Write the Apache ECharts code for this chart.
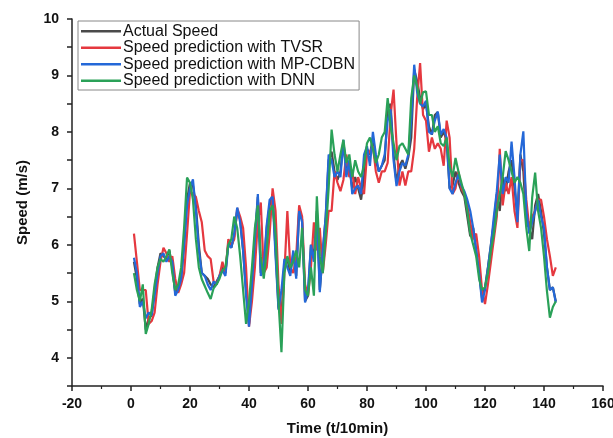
<!DOCTYPE html>
<html><head><meta charset="utf-8">
<script src="https://cdn.jsdelivr.net/npm/echarts@6/dist/echarts.min.js"></script>
<style>html,body{margin:0;padding:0;background:#fff}#c{width:613px;height:438px}</style>
</head><body><div id="c"></div>
<script>
const seriesNames = ['Actual Speed','Speed prediction with TVSR','Speed prediction with MP-CDBN','Speed prediction with DNN'];
const startTime = 1;
const actual = [5.7,5.4,4.95,5.05,4.5,4.7,4.75,5.2,5.6,5.85,5.8,5.75,5.9,5.6,5.15,5.25,5.4,6.0,6.8,7.1,
7.05,6.7,6.0,5.5,5.45,5.4,5.3,5.25,5.35,5.45,5.6,5.5,6.05,5.95,6.15,6.6,6.45,5.9,5.2,4.6,
5.4,6.1,6.85,5.5,5.55,6.3,6.7,6.9,5.9,4.9,4.7,5.7,5.75,5.5,5.85,5.45,6.6,6.45,5.0,5.1,
6.0,5.8,6.6,5.2,5.85,6.5,7.5,7.65,7.3,7.15,7.3,7.8,7.3,7.4,7.0,7.2,7.0,6.8,7.2,7.7,
7.6,7.9,7.5,7.3,7.4,7.5,8.4,8.5,7.6,7.1,7.4,7.5,7.35,7.55,7.9,9.1,8.9,8.6,8.4,8.5,
8.1,7.95,8.3,8.35,7.9,8.0,7.85,7.0,7.05,7.3,7.1,6.95,6.85,6.5,6.15,6.3,5.9,5.5,5.05,5.25,
5.6,6.0,6.4,6.9,6.6,7.2,6.95,7.3,7.5,7.0,6.5,7.6,7.3,6.4,6.3,6.1,6.7,6.9,6.6,6.2,
5.6,5.2,5.25,5.0];
const tvsr = [6.2,5.7,5.2,5.2,5.2,4.6,4.65,4.8,5.3,5.7,5.95,5.85,5.7,5.8,5.4,5.15,5.3,5.5,6.2,6.95,
6.9,6.85,6.6,6.4,5.9,5.8,5.75,5.35,5.3,5.45,5.7,5.5,6.1,6.0,6.1,6.65,6.5,6.3,5.6,4.55,
5.0,5.6,6.4,6.75,5.5,5.6,6.2,7.0,6.6,5.3,4.6,5.5,6.6,5.6,5.5,5.8,6.7,6.5,5.3,5.1,
5.6,6.4,5.9,6.3,5.5,6.0,6.6,6.6,7.3,7.1,6.95,7.15,7.6,7.2,7.3,6.9,7.2,7.0,6.9,7.6,
7.65,7.75,7.3,7.1,7.3,7.3,7.45,8.3,8.75,7.8,7.05,7.3,7.05,7.3,7.3,7.7,8.6,9.22,8.3,8.2,
7.65,7.9,7.7,7.8,7.7,7.4,8.2,7.9,6.9,7.0,7.3,7.0,6.9,6.7,6.4,6.1,6.2,5.8,5.2,4.95,
5.3,5.7,6.1,6.5,7.7,6.7,7.1,6.9,7.2,6.6,6.3,7.5,7.5,6.8,6.3,6.5,6.6,6.8,6.8,6.5,
6.1,5.8,5.45,5.6];
const mpcdbn = [5.77,5.5,4.9,5.0,4.7,4.8,4.75,5.1,5.5,5.8,5.85,5.7,5.8,5.7,5.1,5.2,5.4,6.0,6.7,7.0,
7.16,6.6,5.9,5.5,5.45,5.3,5.2,5.35,5.3,5.45,5.55,5.45,6.0,5.95,6.2,6.66,6.4,5.9,5.1,4.55,
5.3,6.1,6.9,5.45,5.6,6.35,6.8,6.85,5.8,4.85,5.2,5.75,5.6,5.45,5.9,5.4,6.6,6.4,4.98,5.2,
6.0,5.7,6.5,5.16,5.9,6.5,7.6,7.5,7.2,7.3,7.2,7.86,7.2,7.5,6.9,7.0,7.05,6.9,7.6,7.75,
7.4,8.0,7.6,7.3,7.4,7.6,8.2,8.4,7.5,7.04,7.3,7.45,7.4,7.6,8.2,9.19,8.7,8.5,8.45,8.55,
8.0,7.96,8.2,8.36,7.95,8.05,7.9,7.0,6.9,7.1,7.25,7.05,6.95,6.8,6.6,6.3,5.9,5.5,4.98,5.2,
5.6,6.0,6.5,6.95,7.6,6.9,7.2,7.1,7.83,7.2,6.4,7.6,8.01,6.6,6.2,6.4,6.6,6.8,6.5,6.3,
5.6,5.2,5.25,4.98];
const dnn = [5.5,5.2,5.0,5.3,4.42,4.6,4.85,5.3,5.6,5.75,5.7,5.8,5.92,5.5,5.2,5.3,5.6,6.3,7.19,7.1,
6.8,6.1,5.6,5.39,5.27,5.15,5.04,5.23,5.3,5.4,5.55,5.6,6.0,6.1,6.5,6.3,5.8,5.2,4.6,5.0,
5.6,6.3,6.7,5.8,5.4,5.9,6.6,6.7,6.2,5.0,4.1,5.5,5.8,5.6,5.7,5.9,5.6,6.3,5.2,5.1,
5.6,5.1,6.86,5.8,5.5,6.2,7.0,8.04,7.6,7.3,7.6,7.86,7.45,7.6,7.2,7.5,7.3,7.2,7.4,7.8,
7.9,7.7,7.45,7.6,7.9,8.0,8.6,8.1,7.8,7.5,7.75,7.8,7.7,7.6,8.6,9.0,8.8,8.5,8.7,8.72,
8.3,8.3,8.0,8.1,7.8,7.75,7.9,7.4,7.2,7.54,7.3,7.1,6.9,6.6,6.2,6.0,5.8,5.4,5.2,5.25,
5.5,5.9,6.2,6.6,6.9,7.2,7.66,7.5,7.3,7.1,7.2,7.1,6.9,6.3,5.89,6.84,7.28,6.6,6.3,5.8,
5.18,4.71,4.9,5.0];
const xTicks = {min:-20, max:160, interval:20};
const yTicks = {min:3.5, max:10, interval:0.5};
const colors = ['#4a4a4a','#e5383f','#2468d8','#2aa158'];

const allSeries = [actual, tvsr, mpcdbn, dnn];
const chart = echarts.init(document.getElementById('c'), null, {renderer:'canvas'});
const axisFont = {fontFamily:'Liberation Sans, Arial, sans-serif', fontWeight:'bold', fontSize:14, color:'#111'};
chart.setOption({
  animation:false,
  grid:{left:72, right:10, top:19, bottom:52, containLabel:false, outerBoundsMode:'none'},
  legend:{
    data:seriesNames, orient:'vertical', left:78, top:21,
    borderColor:'#888', borderWidth:1, padding:[2,4,1,3], itemGap:0,
    icon:'rect', itemWidth:40, itemHeight:2.5,
    textStyle:{fontFamily:'Liberation Sans, Arial, sans-serif', fontSize:16, color:'#111', padding:[0,0,0,-3], lineHeight:16.5}
  },
  xAxis:{
    type:'value', min:xTicks.min, max:xTicks.max, interval:xTicks.interval,
    name:'Time (t/10min)', nameLocation:'middle', nameGap:35,
    nameTextStyle:{fontFamily:'Liberation Sans, Arial, sans-serif', fontWeight:'bold', fontSize:15, color:'#111'},
    axisLine:{onZero:false, lineStyle:{color:'#222', width:1.5}},
    axisTick:{inside:false, length:5, lineStyle:{color:'#222', width:1.5}},
    minorTick:{show:true, splitNumber:2, length:3, lineStyle:{color:'#222', width:1.2}},
    axisLabel:Object.assign({margin:11}, axisFont),
    splitLine:{show:false}
  },
  yAxis:{
    type:'value', min:yTicks.min, max:yTicks.max, interval:yTicks.interval,
    name:'Speed (m/s)', nameLocation:'middle', nameGap:42,
    nameTextStyle:{fontFamily:'Liberation Sans, Arial, sans-serif', fontWeight:'bold', fontSize:15, color:'#111'},
    axisLine:{show:true, onZero:false, lineStyle:{color:'#222', width:1.5}},
    axisTick:{show:true, inside:false, length:5, lineStyle:{color:'#222', width:1.5}},
    axisLabel:Object.assign({margin:13, formatter:v=>Number.isInteger(v)?String(v):''}, axisFont),
    splitLine:{show:false}
  },
  series: allSeries.map((arr,i)=>({
    name:seriesNames[i], type:'line', showSymbol:false, symbol:'none',
    lineStyle:{color:colors[i], width:2.2}, itemStyle:{color:colors[i]},
    data: arr.map((v,k)=>[startTime+k, v])
  }))
});
</script></body></html>
